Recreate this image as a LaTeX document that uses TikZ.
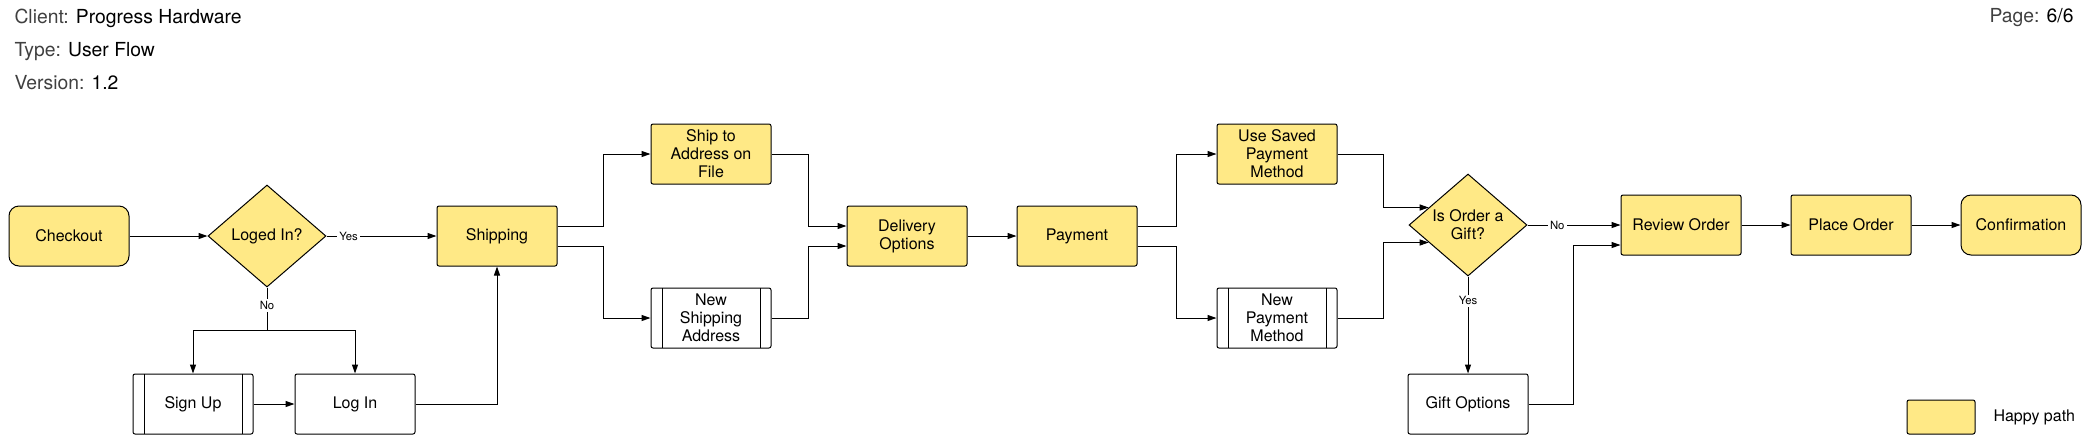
\documentclass[tikz,border=0pt]{standalone}
\usepackage{fontspec}
\setmainfont{TeX Gyre Heros}
\usetikzlibrary{shapes.geometric,arrows.meta,calc}
\definecolor{happy}{RGB}{255,233,134}
\definecolor{labelgray}{RGB}{64,64,64}

\begin{document}
\begin{tikzpicture}[x=0.75pt,y=0.75pt,yscale=-1,xscale=1,
  line width=0.75pt,
  every node/.style={font=\fontsize{12}{13.5}\selectfont},
  box/.style={draw,rounded corners=1.5pt,minimum width=90pt,minimum height=45pt,inner sep=2pt,align=center},
  happybox/.style={box,fill=happy},
  termbox/.style={happybox,rounded corners=7.5pt},
  subbox/.style={box,path picture={\draw ([xshift=8.25pt]path picture bounding box.north west) -- ([xshift=8.25pt]path picture bounding box.south west) ([xshift=-8.25pt]path picture bounding box.north east) -- ([xshift=-8.25pt]path picture bounding box.south east);}},
  decision/.style={diamond,draw,fill=happy,minimum width=88.5pt,minimum height=76.5pt,inner sep=0pt,align=center},
  flow/.style={-{Triangle[length=6.75pt,width=4.5pt]}},
  edgelabel/.style={fill=white,inner sep=1.5pt,font=\fontsize{8.5}{10}\selectfont},
  headtext/.style={anchor=west,inner sep=0pt,font=\fontsize{14.5}{17}\selectfont}
]
\useasboundingbox (0,0) rectangle (2090,440);

% Text Node
\draw (14,18) node [headtext] (client) {\textcolor{labelgray}{Client:} Progress Hardware};
% Text Node
\draw (14,52) node [headtext] (type) {\textcolor{labelgray}{Type:} User Flow};
% Text Node
\draw (14,83) node [headtext] (version) {\textcolor{labelgray}{Version:} 1.2};
% Text Node
\draw (2074,18) node [headtext,anchor=east] (page) {\textcolor{labelgray}{Page:} 6/6};

%Shape: Rounded Rectangle
\draw (69,236) node [termbox] (checkout) {Checkout};
%Shape: Diamond
\draw (267,236) node [decision] (logged) {Loged In?};
%Shape: Rectangle
\draw (497,236) node [happybox] (shipping) {Shipping};
%Shape: Rectangle
\draw (193,404) node [subbox] (signup) {Sign Up};
%Shape: Rectangle
\draw (355,404) node [box] (login) {Log In};
%Shape: Rectangle
\draw (711,154) node [happybox] (shipto) {Ship to\\Address on\\File};
%Shape: Rectangle
\draw (711,318) node [subbox] (newship) {New\\Shipping\\Address};
%Shape: Rectangle
\draw (907,236) node [happybox] (delivery) {Delivery\\Options};
%Shape: Rectangle
\draw (1077,236) node [happybox] (payment) {Payment};
%Shape: Rectangle
\draw (1277,154) node [happybox] (usesaved) {Use Saved\\Payment\\Method};
%Shape: Rectangle
\draw (1277,318) node [subbox] (newpay) {New\\Payment\\Method};
%Shape: Diamond
\draw (1468,225) node [decision] (gift) {Is Order a\\Gift?};
%Shape: Rectangle
\draw (1468,404) node [box] (giftopt) {Gift Options};
%Shape: Rectangle
\draw (1681,225) node [happybox] (review) {Review Order};
%Shape: Rectangle
\draw (1851,225) node [happybox] (place) {Place Order};
%Shape: Rounded Rectangle
\draw (2021,225) node [termbox] (confirm) {Confirmation};

%Shape: Rectangle
\draw (1941,417) node [happybox,minimum width=51pt,minimum height=25.5pt] (legend) {};
% Text Node
\draw (1993,417) node [anchor=west,inner sep=0pt] (legendtext) {Happy path};

%Straight Lines
\draw [flow] (checkout) -- (logged);
\draw [flow] (logged) -- node [edgelabel,pos=0.2] {Yes} (shipping);
%Elbow Lines
\coordinate (nofork) at ($(logged.south)+(0,43)$);
\draw (logged.south) -- node [edgelabel,pos=0.42] {No} (nofork);
\draw [flow] (nofork) -| (signup.north);
\draw [flow] (nofork) -| (login.north);
\draw [flow] (signup) -- (login);
\draw [flow] (login.east) -| (shipping.south);
%Elbow Lines
\draw [flow] ($(shipping.east)+(0,-10)$) -- ++(46,0) |- (shipto.west);
\draw [flow] ($(shipping.east)+(0,10)$) -- ++(46,0) |- (newship.west);
\draw [flow] (shipto.east) -- ++(37,0) |- ($(delivery.west)+(0,-10)$);
\draw [flow] (newship.east) -- ++(37,0) |- ($(delivery.west)+(0,10)$);
%Straight Lines
\draw [flow] (delivery) -- (payment);
%Elbow Lines
\draw [flow] ($(payment.east)+(0,-10)$) -- ++(39,0) |- (usesaved.west);
\draw [flow] ($(payment.east)+(0,10)$) -- ++(39,0) |- (newpay.west);
\draw [flow] (usesaved.east) -- ++(46,0) |- (gift.156);
\draw [flow] (newpay.east) -- ++(46,0) |- (gift.204);
%Straight Lines
\draw [flow] (gift) -- node [edgelabel,pos=0.32] {No} (review);
\draw [flow] (gift) -- node [edgelabel,pos=0.25] {Yes} (giftopt);
\draw [flow] (giftopt.east) -- ++(45,0) |- ($(review.west)+(0,20)$);
\draw [flow] (review) -- (place);
\draw [flow] (place) -- (confirm);

\end{tikzpicture}
\end{document}
